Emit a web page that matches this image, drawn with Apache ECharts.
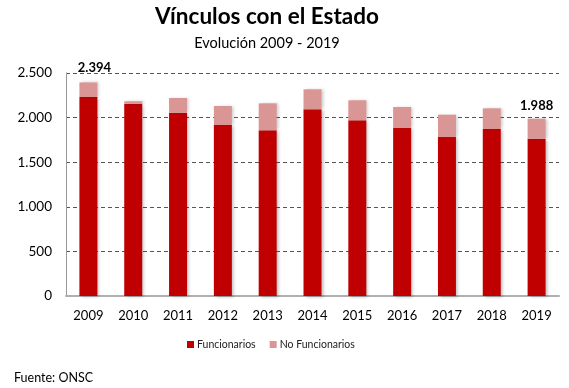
<!DOCTYPE html>
<html><head><meta charset="utf-8">
<script src="https://cdn.jsdelivr.net/npm/echarts@6/dist/echarts.min.js"></script>
<style>html,body{margin:0;padding:0;background:#fff}#c{width:569px;height:388px}</style>
</head><body><div id="c"></div>
<script>
const years = ['2009','2010','2011','2012','2013','2014','2015','2016','2017','2018','2019'];
const funcionarios = [2231, 2156, 2055, 1917, 1857, 2093, 1969, 1883, 1782, 1872, 1762];
const noFuncionarios = [163, 27, 165, 213, 303, 224, 225, 236, 251, 232, 226];
const yTicks = [0, 500, 1000, 1500, 2000, 2500];
const labeledYears = ['2009', '2019'];

const totals = funcionarios.map((v, i) => v + noFuncionarios[i]);
const fmt = v => String(v).replace(/\B(?=(\d{3})+(?!\d))/g, '.');
const font = 'Lato, "Open Sans", sans-serif';

const chart = echarts.init(document.getElementById('c'));
chart.setOption({
  animation: false,
  title: [{
    text: 'Vínculos con el Estado', left: 267, textAlign: 'center', top: 5, padding: 0,
    textStyle: {fontFamily: font, fontSize: 22.5, fontWeight: 'bold', color: '#000'}
  }, {
    text: 'Evolución 2009 - 2019', left: 267, textAlign: 'center', top: 36, padding: 0,
    textStyle: {fontFamily: font, fontSize: 14.5, fontWeight: 'normal', color: '#000'}
  }, {
    text: 'Fuente: ONSC', left: 14, top: 371, padding: 0,
    textStyle: {fontFamily: font, fontSize: 12.5, fontWeight: 'normal', color: '#000'}
  }],
  legend: {
    top: 339, left: 187, itemWidth: 7, itemHeight: 7, itemGap: 14,
    icon: 'rect', padding: 0,
    textStyle: {fontFamily: font, fontSize: 10.5, color: '#222', padding: [0, 0, 0, -2]},
    data: ['Funcionarios', 'No Funcionarios']
  },
  grid: {left: 66, right: 10, top: 73, bottom: 92},
  xAxis: {
    type: 'category', data: years,
    axisLine: {lineStyle: {color: '#b0b0b0', width: 2}},
    axisTick: {show: false},
    axisLabel: {fontFamily: font, fontSize: 13, color: '#000', margin: 13}
  },
  yAxis: {
    type: 'value', min: 0, max: 2500, interval: 500,
    axisLine: {show: true, lineStyle: {color: '#999', width: 1}},
    axisTick: {show: false},
    axisLabel: {fontFamily: font, fontSize: 13.5, color: '#000', margin: 14,
      formatter: v => yTicks.includes(v) ? fmt(v) : ''},
    splitLine: {lineStyle: {color: '#555', type: [4, 3], width: 1}}
  },
  series: [{
    name: 'Funcionarios', type: 'bar', stack: 't', barWidth: 18,
    itemStyle: {color: '#C00000', shadowColor: 'rgba(0,0,0,0.25)', shadowBlur: 3, shadowOffsetX: 2, shadowOffsetY: 1},
    data: funcionarios
  }, {
    name: 'No Funcionarios', type: 'bar', stack: 't', barWidth: 18,
    itemStyle: {color: '#D99694', shadowColor: 'rgba(0,0,0,0.2)', shadowBlur: 3, shadowOffsetX: 2, shadowOffsetY: 0},
    data: noFuncionarios.map((v, i) => ({
      value: v,
      label: years[i] === '2009' ? {offset: [6, -2]} : {offset: [0, 0]}
    })),
    label: {
      show: true, position: 'top', distance: 6,
      fontFamily: font, fontSize: 13, fontWeight: 'bold', color: '#000',
      formatter: p => labeledYears.includes(p.name) ? fmt(totals[p.dataIndex]) : ''
    }
  }]
});
</script></body></html>
